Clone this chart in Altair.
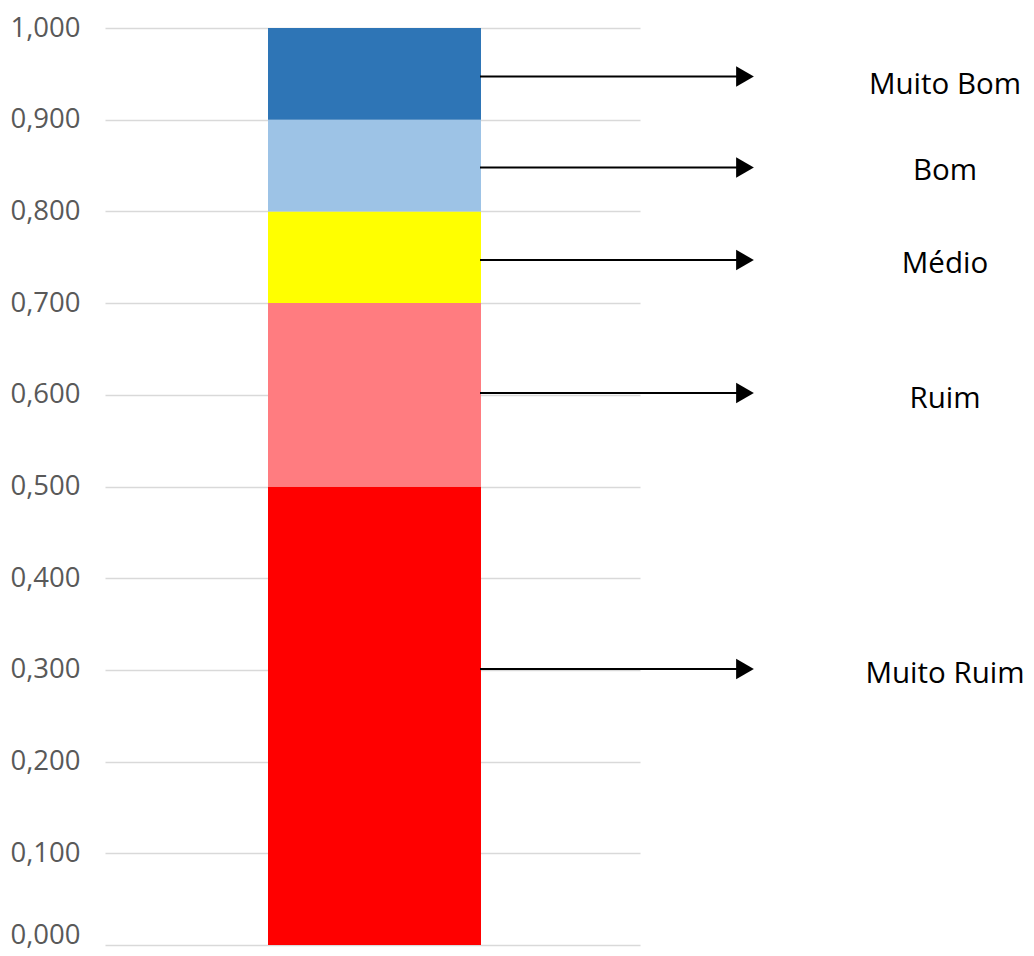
import altair as alt
import pandas as pd

# Segment data
categories = ["Muito Ruim", "Ruim", "Médio", "Bom", "Muito Bom"]
lower = [0.0, 0.5, 0.7, 0.8, 0.9]
upper = [0.5, 0.7, 0.8, 0.9, 1.0]
colors = ["#FF0000", "#FF7C80", "#FFFF00", "#9DC3E6", "#2E75B6"]

# Arrow and label positions (value scale)
arrow_y = [0.301, 0.602, 0.747, 0.848, 0.947]
label_y = [0.296, 0.595, 0.743, 0.844, 0.938]

tick_values = [0.0, 0.1, 0.2, 0.3, 0.4, 0.5, 0.6, 0.7, 0.8, 0.9, 1.0]

seg = pd.DataFrame({"cat": categories, "lo": lower, "hi": upper})
arr = pd.DataFrame({"cat": categories, "ay": arrow_y, "ly": label_y})

yscale = alt.Scale(domain=[0, 1], nice=False, zero=True)
yaxis = alt.Axis(
    values=tick_values,
    labelExpr="replace(format(datum.value, '.3f'), '.', ',')",
    grid=True,
    gridColor="#D9D9D9",
    gridWidth=1.5,
    domain=False,
    ticks=False,
    labelPadding=25,
    labelFont="Open Sans",
    labelFontSize=27.5,
    labelColor="#595959",
    labelOffset={"condition": {"test": "datum.value == 0", "value": -10}, "value": 0},
    title=None,
)

bars = alt.Chart(seg).mark_rect().encode(
    x=alt.value(163),
    x2=alt.value(376),
    y=alt.Y("lo:Q", scale=yscale, axis=yaxis),
    y2="hi:Q",
    color=alt.Color("cat:N", scale=alt.Scale(domain=categories, range=colors), legend=None),
)

lines = alt.Chart(arr).mark_rule(color="black", strokeWidth=2).encode(
    x=alt.value(375),
    x2=alt.value(636),
    y=alt.Y("ay:Q", scale=yscale),
)

heads = alt.Chart(arr).mark_point(
    shape="triangle-right", filled=True, color="black", opacity=1, size=420
).encode(
    x=alt.value(640),
    y=alt.Y("ay:Q", scale=yscale),
)

labels = alt.Chart(arr).mark_text(
    font="Open Sans", fontSize=29.5, color="black", align="center", baseline="middle"
).encode(
    x=alt.value(840),
    y=alt.Y("ly:Q", scale=yscale),
    text="cat:N",
)

chart = alt.layer(bars, lines, heads, labels).properties(
    width=535,
    height=917,
    autosize=alt.AutoSizeParams(type="none"),
    padding={"left": 97, "top": 20, "right": 386, "bottom": 3},
).configure_view(stroke=None)

chart.save("out.html", embed_options={"renderer": "svg", "actions": False})
